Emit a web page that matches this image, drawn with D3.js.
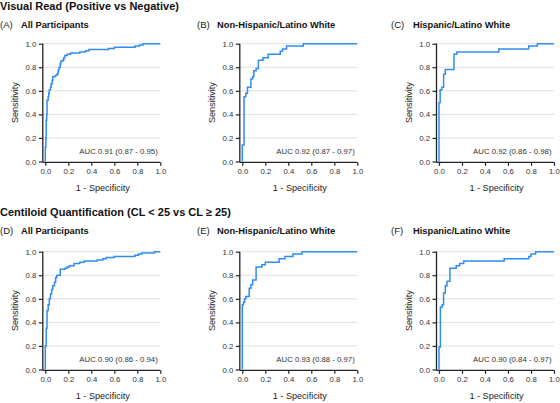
<!DOCTYPE html>
<html><head><meta charset="utf-8">
<script src="https://cdn.jsdelivr.net/npm/d3@7"></script>
<style>
html,body{margin:0;padding:0;background:#fff;}
svg{display:block;font-family:"Liberation Sans",Arial,sans-serif;}
</style></head>
<body><svg id="c" width="560" height="403"></svg>
<script>
const rowTitles = ["Visual Read (Positive vs Negative)", "Centiloid Quantification (CL < 25 vs CL \u2265 25)"];
const panelLetters = ["(A)", "(B)", "(C)", "(D)", "(E)", "(F)"];
const panelNames = ["All Participants", "Non-Hispanic/Latino White", "Hispanic/Latino White",
                    "All Participants", "Non-Hispanic/Latino White", "Hispanic/Latino White"];
const aucLabels = ["AUC 0.91 (0.87 - 0.95)", "AUC 0.92 (0.87 - 0.97)", "AUC 0.92 (0.86 - 0.98)",
                   "AUC 0.90 (0.86 - 0.94)", "AUC 0.93 (0.88 - 0.97)", "AUC 0.90 (0.84 - 0.97)"];
const tickValues = [0, 0.2, 0.4, 0.6, 0.8, 1.0];

// ROC points (1 - specificity, sensitivity)
const fprA = [0,0,0.005,0.008,0.012,0.015,0.025,0.03,0.035,0.045,0.05,0.06,0.065,0.085,0.1,0.11,0.115,0.12,0.13,0.135,0.15,0.16,0.17,0.19,0.22,0.3,0.35,0.38,0.55,0.6,0.78,0.82,0.85,1];
const tprA = [0,0.12,0.2,0.35,0.4,0.52,0.55,0.58,0.61,0.63,0.66,0.69,0.72,0.73,0.74,0.76,0.78,0.8,0.83,0.85,0.86,0.88,0.9,0.91,0.92,0.93,0.94,0.95,0.96,0.97,0.98,0.99,1,1];
const fprB = [0,0,0.015,0.03,0.045,0.075,0.09,0.1,0.12,0.14,0.18,0.225,0.33,0.35,0.385,0.53,1];
const tprB = [0,0.14,0.55,0.58,0.63,0.7,0.72,0.77,0.79,0.86,0.88,0.91,0.935,0.955,0.98,1,1];
const fprC = [0,0,0.01,0.025,0.04,0.055,0.13,0.155,0.52,0.78,0.855,1];
const tprC = [0,0.5,0.61,0.63,0.74,0.78,0.91,0.93,0.955,0.98,1,1];
const fprD = [0,0,0.008,0.015,0.025,0.035,0.045,0.055,0.065,0.08,0.09,0.1,0.13,0.17,0.19,0.21,0.25,0.3,0.34,0.45,0.5,0.53,0.6,0.78,0.81,0.84,0.95,1];
const tprD = [0,0.2,0.35,0.5,0.55,0.6,0.64,0.68,0.71,0.74,0.78,0.8,0.85,0.86,0.87,0.88,0.9,0.91,0.92,0.93,0.94,0.95,0.96,0.97,0.98,0.99,1,1];
const fprE = [0,0,0.01,0.02,0.03,0.06,0.075,0.09,0.12,0.17,0.2,0.32,0.37,0.44,0.52,1];
const tprE = [0,0.55,0.57,0.6,0.62,0.69,0.72,0.76,0.87,0.89,0.91,0.94,0.96,0.98,1,1];
const fprF = [0,0,0.012,0.028,0.04,0.055,0.07,0.095,0.15,0.18,0.215,0.567,0.78,0.8,0.84,1];
const tprF = [0,0.19,0.53,0.55,0.65,0.71,0.75,0.86,0.88,0.9,0.92,0.94,0.96,0.98,1,1];

const series = [[fprA,tprA],[fprB,tprB],[fprC,tprC],[fprD,tprD],[fprE,tprE],[fprF,tprF]];

const svg = d3.select("#c");
const colX0 = [45.3, 242.3, 439];
const rowTop = [43.7, 251.7];
const W = 115, H = 117.8;
const letterX = [0, 197, 391];
const nameX = [21, 217, 413];
const titleY = [10, 215.5];
const subY = [27.5, 234];
const blue = "#2f8cf2";

rowTitles.forEach((t, r) => {
  svg.append("text").attr("x", 0).attr("y", titleY[r])
    .attr("font-size", 11).attr("font-weight", "bold").attr("fill", "#111").text(t);
});

series.forEach((s, i) => {
  const r = Math.floor(i / 3), c = i % 3;
  const x0 = colX0[c], yT = rowTop[r];
  const x = d3.scaleLinear().domain([0, 1]).range([x0, x0 + W]);
  const y = d3.scaleLinear().domain([0, 1]).range([yT + H, yT]);
  const g = svg.append("g");

  g.append("text").attr("x", letterX[c]).attr("y", subY[r]).attr("font-size", 9.6)
    .attr("fill", "#222").text(panelLetters[i]);
  g.append("text").attr("x", nameX[c]).attr("y", subY[r]).attr("font-size", 9.3)
    .attr("font-weight", "bold").attr("fill", "#111").text(panelNames[i]);

  // grid
  g.selectAll("line.grid").data(tickValues.slice(1)).join("line")
    .attr("x1", x(0) - 2.5).attr("x2", x(1)).attr("y1", d => y(d)).attr("y2", d => y(d))
    .attr("stroke", "#dcdcdc").attr("stroke-width", 0.9);

  const axX = x(0) - 2.5, axY = y(0) + 0.8;
  const yAxis = d3.axisLeft(y).tickValues(tickValues).tickFormat(d3.format(".1f")).tickSize(4).tickPadding(2.5);
  const gy = g.append("g").attr("transform", `translate(${axX},0)`).call(yAxis);
  const xAxis = d3.axisBottom(x).tickValues(tickValues).tickFormat(d3.format(".1f")).tickSize(3.5).tickPadding(3);
  const gx = g.append("g").attr("transform", `translate(0,${axY})`).call(xAxis);
  [gy, gx].forEach(a => {
    a.select(".domain").remove();
    a.selectAll("line").attr("stroke", "#222").attr("stroke-width", 1.2);
    a.selectAll("text").attr("font-size", 7.8).attr("fill", "#333")
      .attr("font-family", "Liberation Sans, Arial, sans-serif");
  });
  g.append("line").attr("x1", axX).attr("x2", axX).attr("y1", y(1)).attr("y2", axY)
    .attr("stroke", "#222").attr("stroke-width", 1.3);
  g.append("line").attr("x1", axX).attr("x2", x(1)).attr("y1", axY).attr("y2", axY)
    .attr("stroke", "#222").attr("stroke-width", 1.3);

  // curve
  const pts = s[0].map((f, k) => [f, s[1][k]]);
  const line = d3.line().x(d => x(d[0])).y(d => y(d[1])).curve(d3.curveStepAfter);
  g.append("path").attr("d", line(pts)).attr("fill", "none")
    .attr("stroke", blue).attr("stroke-width", 1.5);

  g.append("text").attr("x", x(1) - 2.5).attr("y", y(0) - 7.5).attr("text-anchor", "end")
    .attr("font-size", 7.8).attr("fill", "#333").text(aucLabels[i]);

  g.append("text").attr("x", (x(0) + x(1)) / 2).attr("y", y(0) + 29.5).attr("text-anchor", "middle")
    .attr("font-size", 9.1).attr("fill", "#222").text("1 - Specificity");
  g.append("text").attr("transform", `translate(${axX - 24.5},${(y(0) + y(1)) / 2}) rotate(-90)`)
    .attr("text-anchor", "middle").attr("font-size", 9.1).attr("fill", "#222").text("Sensitivity");
});
</script></body></html>
